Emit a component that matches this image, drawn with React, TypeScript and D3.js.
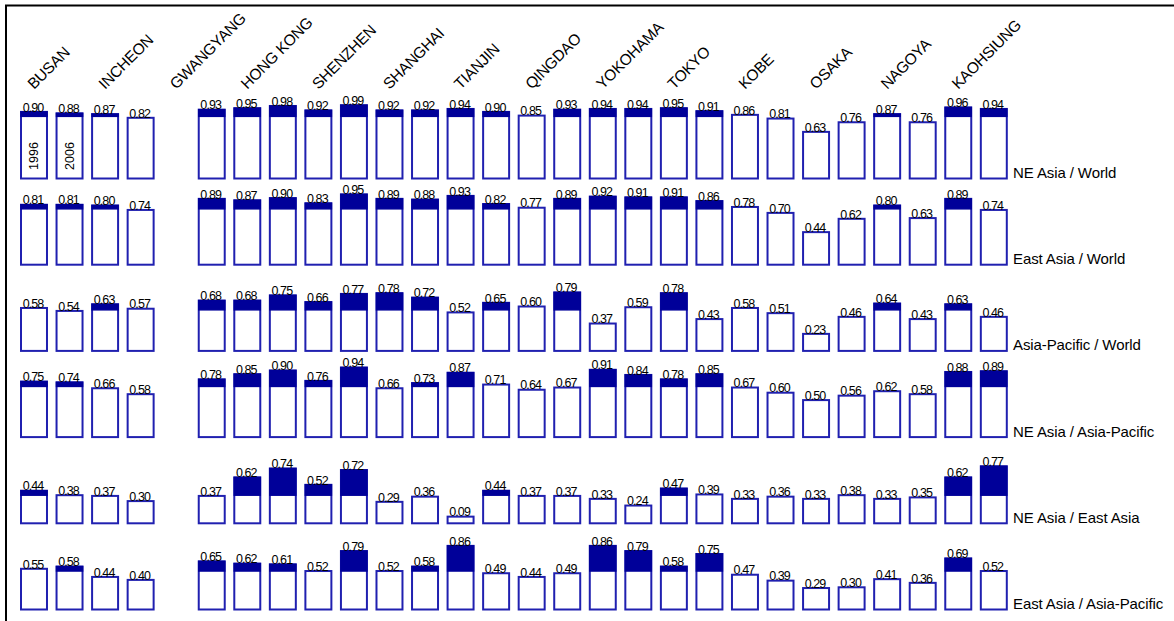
import React from "react";
import * as d3 from "d3";

const PORTS = [
  "BUSAN", "INCHEON", "GWANGYANG", "HONG KONG", "SHENZHEN", "SHANGHAI", "TIANJIN",
  "QINGDAO", "YOKOHAMA", "TOKYO", "KOBE", "OSAKA", "NAGOYA", "KAOHSIUNG",
];
const YEARS = ["1996", "2006"];

const ROW_LABELS = [
  "NE Asia / World",
  "East Asia / World",
  "Asia-Pacific / World",
  "NE Asia / Asia-Pacific",
  "NE Asia / East Asia",
  "East Asia / Asia-Pacific",
];

// values per port: [1996, 2006]
const NE_ASIA_WORLD = [0.90, 0.88, 0.87, 0.82, null, 0.93, 0.95, 0.98, 0.92, 0.99, 0.92, 0.92, 0.94, 0.90, 0.85, 0.93, 0.94, 0.94, 0.95, 0.91, 0.86, 0.81, 0.63, 0.76, 0.87, 0.76, 0.96, 0.94];
const EAST_ASIA_WORLD = [0.81, 0.81, 0.80, 0.74, null, 0.89, 0.87, 0.90, 0.83, 0.95, 0.89, 0.88, 0.93, 0.82, 0.77, 0.89, 0.92, 0.91, 0.91, 0.86, 0.78, 0.70, 0.44, 0.62, 0.80, 0.63, 0.89, 0.74];
const ASIA_PACIFIC_WORLD = [0.58, 0.54, 0.63, 0.57, null, 0.68, 0.68, 0.75, 0.66, 0.77, 0.78, 0.72, 0.52, 0.65, 0.60, 0.79, 0.37, 0.59, 0.78, 0.43, 0.58, 0.51, 0.23, 0.46, 0.64, 0.43, 0.63, 0.46];
const NE_ASIA_ASIA_PACIFIC = [0.75, 0.74, 0.66, 0.58, null, 0.78, 0.85, 0.90, 0.76, 0.94, 0.66, 0.73, 0.87, 0.71, 0.64, 0.67, 0.91, 0.84, 0.78, 0.85, 0.67, 0.60, 0.50, 0.56, 0.62, 0.58, 0.88, 0.89];
const NE_ASIA_EAST_ASIA = [0.44, 0.38, 0.37, 0.30, null, 0.37, 0.62, 0.74, 0.52, 0.72, 0.29, 0.36, 0.09, 0.44, 0.37, 0.37, 0.33, 0.24, 0.47, 0.39, 0.33, 0.36, 0.33, 0.38, 0.33, 0.35, 0.62, 0.77];
const EAST_ASIA_ASIA_PACIFIC = [0.55, 0.58, 0.44, 0.40, null, 0.65, 0.62, 0.61, 0.52, 0.79, 0.52, 0.58, 0.86, 0.49, 0.44, 0.49, 0.86, 0.79, 0.58, 0.75, 0.47, 0.39, 0.29, 0.30, 0.41, 0.36, 0.69, 0.52];

// reference level from which the dark part starts, and the value above which it shows
const ROW_BASE = [0.84, 0.755, 0.555, 0.685, 0.38, 0.52];
const ROW_CUTOFF = [0.865, 0.79, 0.61, 0.72, 0.40, 0.56];

const ROWS = [NE_ASIA_WORLD, EAST_ASIA_WORLD, ASIA_PACIFIC_WORLD, NE_ASIA_ASIA_PACIFIC, NE_ASIA_EAST_ASIA, EAST_ASIA_ASIA_PACIFIC];

const W = 1174;
const H = 621;
const FONT = "'Liberation Sans', Arial, Helvetica, sans-serif";
const STROKE = "#2020b0";
const FILL = "#000099";

export default function App() {
  const slots = d3.range(PORTS.length * YEARS.length);
  const x = d3.scaleBand<number>().domain(slots).range([21, 1006.8]).paddingInner(0.269).paddingOuter(0);
  const h = d3.scaleLinear().domain([0, 1]).range([0, 74]);
  const rowBottom = d3.scaleLinear().domain([0, 1]).range([178.5, 264.7]);

  return (
    <svg width={W} height={H} style={{ position: "absolute", left: 0, top: 0, background: "#fff" }} fontFamily={FONT}>
      <rect x={0} y={0} width={W} height={H} fill="#fff" />
      <rect x={6} y={5.5} width={W + 20} height={H + 20} fill="none" stroke="#000" strokeWidth={2} />

      {PORTS.map((p, i) => {
        const px = (x(i * 2) ?? 0) + 13;
        const py = 90;
        return (
          <text key={p} x={px} y={py} fontSize={15.5} letterSpacing={-0.3} fill="#000"
            transform={`rotate(-45 ${px} ${py})`}>{p}</text>
        );
      })}

      {ROWS.map((vals, r) => {
        const b = rowBottom(r);
        const base = ROW_BASE[r];
        const cut = ROW_CUTOFF[r];
        return (
          <g key={r}>
            {vals.map((v, k) => {
              if (v == null) return null;
              const bx = x(k) ?? 0;
              const bw = x.bandwidth();
              const top = b - h(v);
              const filled = v > cut;
              return (
                <g key={k}>
                  <rect x={bx} y={top} width={bw} height={h(v)} fill="#fff" stroke={STROKE} strokeWidth={2} />
                  {filled && (
                    <rect x={bx} y={top} width={bw} height={h(v) - h(base)} fill={FILL} stroke={FILL} strokeWidth={1.5} />
                  )}
                  <text x={bx + bw / 2 - 1} y={top - 0.3} fontSize={12.5} letterSpacing={-0.9} textAnchor="middle" fill="#000">
                    {v.toFixed(2)}
                  </text>
                </g>
              );
            })}
            <text x={1013} y={b - 0.5} fontSize={15} letterSpacing={-0.1} fill="#000">{ROW_LABELS[r]}</text>
          </g>
        );
      })}

      {YEARS.map((yr, k) => {
        const cx = (x(k) ?? 0) + x.bandwidth() / 2 + 4.5;
        const cy = 156;
        return (
          <text key={yr} x={cx} y={cy} fontSize={12.5} textAnchor="middle" fill="#000"
            transform={`rotate(-90 ${cx} ${cy})`}>{yr}</text>
        );
      })}
    </svg>
  );
}
